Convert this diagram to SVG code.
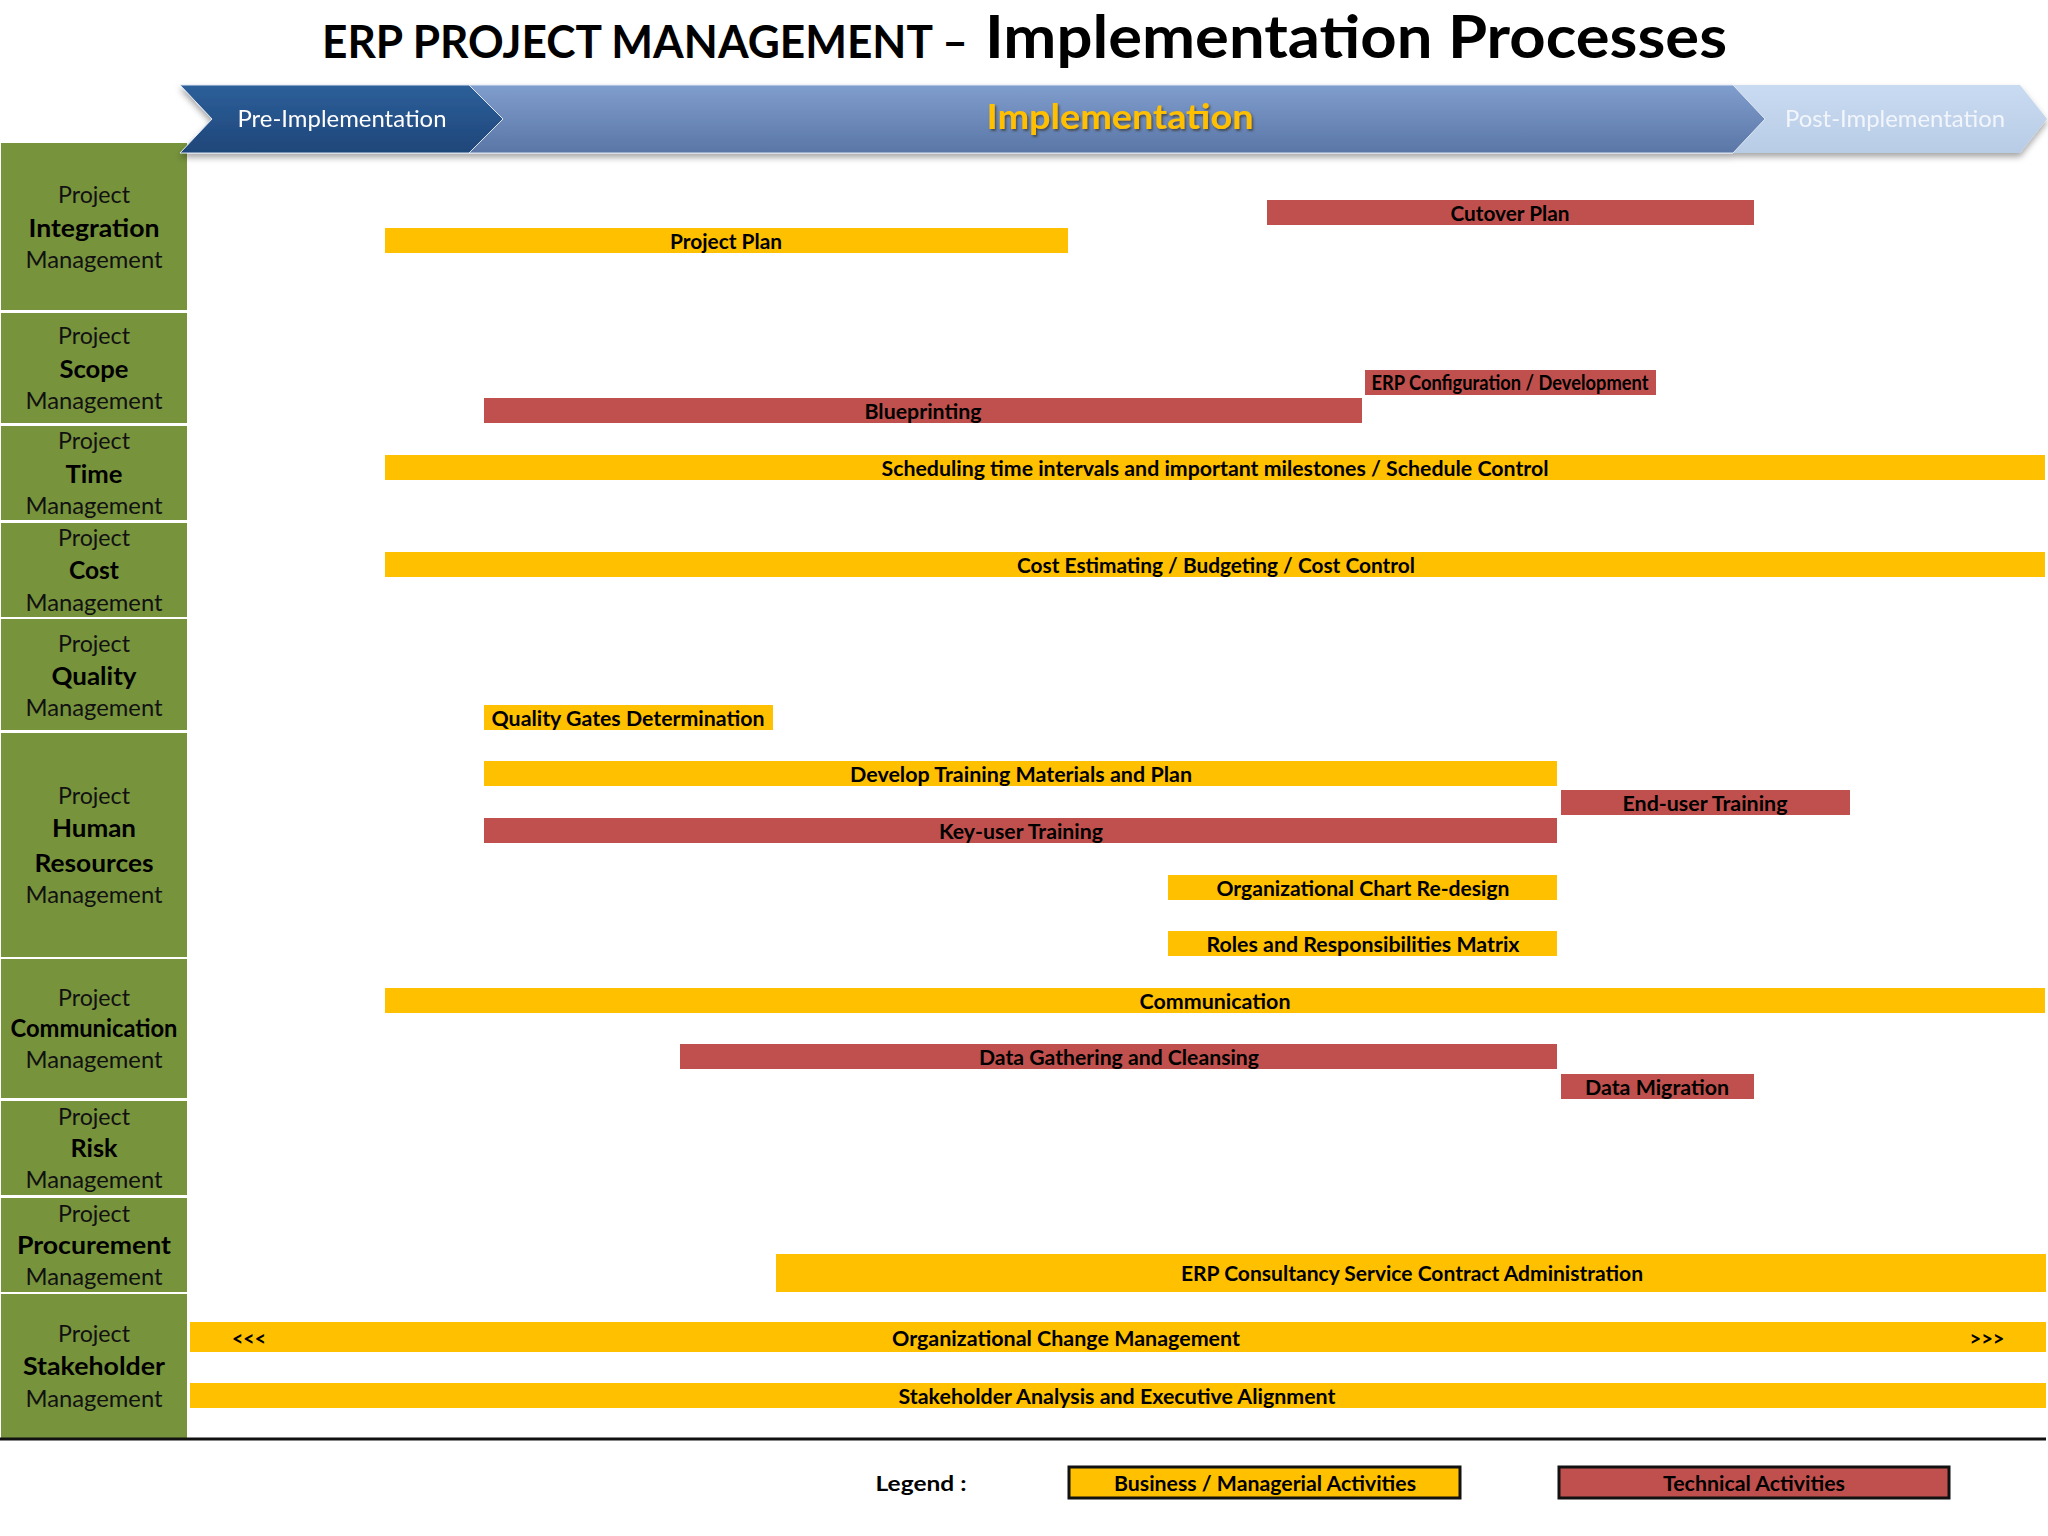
<svg xmlns="http://www.w3.org/2000/svg" width="2048" height="1536" viewBox="0 0 2048 1536">
<defs>
<linearGradient id="gPre" x1="0" y1="0" x2="0" y2="1"><stop offset="0" stop-color="#2d5f9a"/><stop offset="1" stop-color="#1f4679"/></linearGradient>
<linearGradient id="gImp" x1="0" y1="0" x2="0" y2="1"><stop offset="0" stop-color="#7f9dcd"/><stop offset="1" stop-color="#5a76a6"/></linearGradient>
<linearGradient id="gPost" x1="0" y1="0" x2="0" y2="1"><stop offset="0" stop-color="#c9dbf1"/><stop offset="1" stop-color="#b8cce6"/></linearGradient>
<filter id="sh" x="-5%" y="-20%" width="110%" height="150%"><feDropShadow dx="0" dy="4" stdDeviation="3" flood-color="#000" flood-opacity="0.35"/></filter>
<filter id="tsh" x="-5%" y="-20%" width="110%" height="150%"><feDropShadow dx="1.5" dy="2" stdDeviation="1" flood-color="#3a3a3a" flood-opacity="0.8"/></filter>
</defs>
<style>
.grn{fill:#77933c}
.lab{font-family:Lato,"Open Sans",sans-serif;font-size:24px;fill:#111;text-anchor:middle}
.labb{font-family:Lato,"Open Sans",sans-serif;font-size:25px;font-weight:bold;fill:#000;text-anchor:middle}
.y{fill:#ffc000}
.r{fill:#c0504d}
.bt{font-family:Lato,"Open Sans",sans-serif;font-size:21px;font-weight:bold;fill:#000;text-anchor:middle}
.ttl{font-family:Lato,"Open Sans",sans-serif;font-weight:bold;fill:#000}
</style>
<rect width="2048" height="1536" fill="#ffffff"/>

<g id="title">
<text class="ttl" x="322" y="58" font-size="46" textLength="646" lengthAdjust="spacingAndGlyphs">ERP PROJECT MANAGEMENT –</text>
<text class="ttl" x="985" y="58" font-size="59" textLength="742" lengthAdjust="spacingAndGlyphs">Implementation Processes</text>
</g>

<g id="rows">
<g id="row-integration"><rect class="grn" x="1" y="143" width="186" height="167"/>
<text class="lab" x="94" y="203" textLength="72" lengthAdjust="spacingAndGlyphs">Project</text>
<text class="labb" x="94" y="237" textLength="131" lengthAdjust="spacingAndGlyphs">Integration</text>
<text class="lab" x="94" y="268" textLength="137" lengthAdjust="spacingAndGlyphs">Management</text></g>
<g id="row-scope"><rect class="grn" x="1" y="313" width="186" height="110"/>
<text class="lab" x="94" y="344" textLength="72" lengthAdjust="spacingAndGlyphs">Project</text>
<text class="labb" x="94" y="378" textLength="69" lengthAdjust="spacingAndGlyphs">Scope</text>
<text class="lab" x="94" y="409" textLength="137" lengthAdjust="spacingAndGlyphs">Management</text></g>
<g id="row-time"><rect class="grn" x="1" y="426" width="186" height="94"/>
<text class="lab" x="94" y="449" textLength="72" lengthAdjust="spacingAndGlyphs">Project</text>
<text class="labb" x="94" y="483" textLength="57" lengthAdjust="spacingAndGlyphs">Time</text>
<text class="lab" x="94" y="514" textLength="137" lengthAdjust="spacingAndGlyphs">Management</text></g>
<g id="row-cost"><rect class="grn" x="1" y="523" width="186" height="94"/>
<text class="lab" x="94" y="546" textLength="72" lengthAdjust="spacingAndGlyphs">Project</text>
<text class="labb" x="94" y="579" textLength="50" lengthAdjust="spacingAndGlyphs">Cost</text>
<text class="lab" x="94" y="611" textLength="137" lengthAdjust="spacingAndGlyphs">Management</text></g>
<g id="row-quality"><rect class="grn" x="1" y="619" width="186" height="111"/>
<text class="lab" x="94" y="652" textLength="72" lengthAdjust="spacingAndGlyphs">Project</text>
<text class="labb" x="94" y="685" textLength="85" lengthAdjust="spacingAndGlyphs">Quality</text>
<text class="lab" x="94" y="716" textLength="137" lengthAdjust="spacingAndGlyphs">Management</text></g>
<g id="row-hr"><rect class="grn" x="1" y="733" width="186" height="224"/>
<text class="lab" x="94" y="804" textLength="72" lengthAdjust="spacingAndGlyphs">Project</text>
<text class="labb" x="94" y="837" textLength="84" lengthAdjust="spacingAndGlyphs">Human</text>
<text class="labb" x="94" y="872" textLength="119" lengthAdjust="spacingAndGlyphs">Resources</text>
<text class="lab" x="94" y="903" textLength="137" lengthAdjust="spacingAndGlyphs">Management</text></g>
<g id="row-communication"><rect class="grn" x="1" y="959" width="186" height="139"/>
<text class="lab" x="94" y="1006" textLength="72" lengthAdjust="spacingAndGlyphs">Project</text>
<text class="labb" x="94" y="1037" textLength="167" lengthAdjust="spacingAndGlyphs">Communication</text>
<text class="lab" x="94" y="1068" textLength="137" lengthAdjust="spacingAndGlyphs">Management</text></g>
<g id="row-risk"><rect class="grn" x="1" y="1101" width="186" height="94"/>
<text class="lab" x="94" y="1125" textLength="72" lengthAdjust="spacingAndGlyphs">Project</text>
<text class="labb" x="94" y="1157" textLength="47" lengthAdjust="spacingAndGlyphs">Risk</text>
<text class="lab" x="94" y="1188" textLength="137" lengthAdjust="spacingAndGlyphs">Management</text></g>
<g id="row-procurement"><rect class="grn" x="1" y="1198" width="186" height="94"/>
<text class="lab" x="94" y="1222" textLength="72" lengthAdjust="spacingAndGlyphs">Project</text>
<text class="labb" x="94" y="1254" textLength="154" lengthAdjust="spacingAndGlyphs">Procurement</text>
<text class="lab" x="94" y="1285" textLength="137" lengthAdjust="spacingAndGlyphs">Management</text></g>
<g id="row-stakeholder"><rect class="grn" x="1" y="1294" width="186" height="144"/>
<text class="lab" x="94" y="1342" textLength="72" lengthAdjust="spacingAndGlyphs">Project</text>
<text class="labb" x="94" y="1375" textLength="142" lengthAdjust="spacingAndGlyphs">Stakeholder</text>
<text class="lab" x="94" y="1407" textLength="137" lengthAdjust="spacingAndGlyphs">Management</text></g>
</g>

<g id="phases" filter="url(#sh)">
<g id="phase-post"><polygon points="1733,85 2020,85 2047,119 2020,153 1733,153 1765,119" fill="url(#gPost)"/>
<text x="1895" y="127" font-family="Lato,'Open Sans',sans-serif" font-size="23" fill="#f2f6fc" text-anchor="middle" textLength="220" lengthAdjust="spacingAndGlyphs">Post-Implementation</text></g>
<g id="phase-impl"><polygon points="469,85 1733,85 1765,119 1733,153 469,153 503,119" fill="url(#gImp)" stroke="#dfe7f3" stroke-width="1"/>
<text x="1120" y="129" font-family="Lato,'Open Sans',sans-serif" font-size="34" font-weight="bold" fill="#ffc000" text-anchor="middle" textLength="267" lengthAdjust="spacingAndGlyphs" filter="url(#tsh)">Implementation</text></g>
<g id="phase-pre"><polygon points="180,85 469,85 503,119 469,153 180,153 212,119" fill="url(#gPre)" stroke="#dfe7f3" stroke-width="1"/>
<text x="342" y="127" font-family="Lato,'Open Sans',sans-serif" font-size="23" fill="#ffffff" text-anchor="middle" textLength="209" lengthAdjust="spacingAndGlyphs">Pre-Implementation</text></g>
</g>

<g id="activities">
<g id="a-cutover"><rect class="r" x="1267" y="200" width="487" height="25"/><text class="bt" x="1510" y="221" textLength="119" lengthAdjust="spacingAndGlyphs">Cutover Plan</text></g>
<g id="a-projectplan"><rect class="y" x="385" y="228" width="683" height="25"/><text class="bt" x="726" y="249" textLength="112" lengthAdjust="spacingAndGlyphs">Project Plan</text></g>
<g id="a-erpconfig"><rect class="r" x="1365" y="370" width="291" height="25"/><text class="bt" x="1510" y="390" font-size="18" textLength="277" lengthAdjust="spacingAndGlyphs">ERP Configuration / Development</text></g>
<g id="a-blueprint"><rect class="r" x="484" y="398" width="878" height="25"/><text class="bt" x="923" y="419" textLength="117" lengthAdjust="spacingAndGlyphs">Blueprinting</text></g>
<g id="a-schedule"><rect class="y" x="385" y="455" width="1660" height="25"/><text class="bt" x="1215" y="476" textLength="667" lengthAdjust="spacingAndGlyphs">Scheduling time intervals and important milestones / Schedule Control</text></g>
<g id="a-cost"><rect class="y" x="385" y="552" width="1660" height="25"/><text class="bt" x="1216" y="573" textLength="398" lengthAdjust="spacingAndGlyphs">Cost Estimating / Budgeting / Cost Control</text></g>
<g id="a-quality"><rect class="y" x="484" y="705" width="289" height="25"/><text class="bt" x="628" y="726" textLength="273" lengthAdjust="spacingAndGlyphs">Quality Gates Determination</text></g>
<g id="a-devtraining"><rect class="y" x="484" y="761" width="1073" height="25"/><text class="bt" x="1021" y="782" textLength="342" lengthAdjust="spacingAndGlyphs">Develop Training Materials and Plan</text></g>
<g id="a-enduser"><rect class="r" x="1561" y="790" width="289" height="25"/><text class="bt" x="1705" y="811" textLength="165" lengthAdjust="spacingAndGlyphs">End-user Training</text></g>
<g id="a-keyuser"><rect class="r" x="484" y="818" width="1073" height="25"/><text class="bt" x="1021" y="839" textLength="164" lengthAdjust="spacingAndGlyphs">Key-user Training</text></g>
<g id="a-orgchart"><rect class="y" x="1168" y="875" width="389" height="25"/><text class="bt" x="1363" y="896" textLength="293" lengthAdjust="spacingAndGlyphs">Organizational Chart Re-design</text></g>
<g id="a-roles"><rect class="y" x="1168" y="931" width="389" height="25"/><text class="bt" x="1363" y="952" textLength="313" lengthAdjust="spacingAndGlyphs">Roles and Responsibilities Matrix</text></g>
<g id="a-communication"><rect class="y" x="385" y="988" width="1660" height="25"/><text class="bt" x="1215" y="1009" textLength="151" lengthAdjust="spacingAndGlyphs">Communication</text></g>
<g id="a-datagathering"><rect class="r" x="680" y="1044" width="877" height="25"/><text class="bt" x="1119" y="1065" textLength="280" lengthAdjust="spacingAndGlyphs">Data Gathering and Cleansing</text></g>
<g id="a-datamigration"><rect class="r" x="1561" y="1074" width="193" height="25"/><text class="bt" x="1657" y="1095" textLength="144" lengthAdjust="spacingAndGlyphs">Data Migration</text></g>
<g id="a-consultancy"><rect class="y" x="776" y="1254" width="1270" height="38"/><text class="bt" x="1412" y="1281" textLength="462" lengthAdjust="spacingAndGlyphs">ERP Consultancy Service Contract Administration</text></g>
<g id="a-orgchange"><rect class="y" x="190" y="1322" width="1856" height="30"/><text class="bt" x="249" y="1346" textLength="34" lengthAdjust="spacingAndGlyphs">&lt;&lt;&lt;</text><text class="bt" x="1066" y="1346" textLength="348" lengthAdjust="spacingAndGlyphs">Organizational Change Management</text><text class="bt" x="1987" y="1346" textLength="35" lengthAdjust="spacingAndGlyphs">&gt;&gt;&gt;</text></g>
<g id="a-stakeholder"><rect class="y" x="190" y="1383" width="1856" height="25"/><text class="bt" x="1117" y="1404" textLength="437" lengthAdjust="spacingAndGlyphs">Stakeholder Analysis and Executive Alignment</text></g>
</g>

<line x1="0" y1="1439" x2="2046" y2="1439" stroke="#111" stroke-width="3"/>

<g id="legend">
<text class="bt" x="921" y="1491" font-size="22" textLength="91" lengthAdjust="spacingAndGlyphs">Legend :</text>
<g id="legend-business"><rect class="y" x="1069" y="1467" width="391" height="31" stroke="#111" stroke-width="3"/><text class="bt" x="1265" y="1491" textLength="302" lengthAdjust="spacingAndGlyphs">Business / Managerial Activities</text></g>
<g id="legend-technical"><rect class="r" x="1559" y="1467" width="390" height="31" stroke="#111" stroke-width="3"/><text class="bt" x="1754" y="1491" textLength="182" lengthAdjust="spacingAndGlyphs">Technical Activities</text></g>
</g>
</svg>
